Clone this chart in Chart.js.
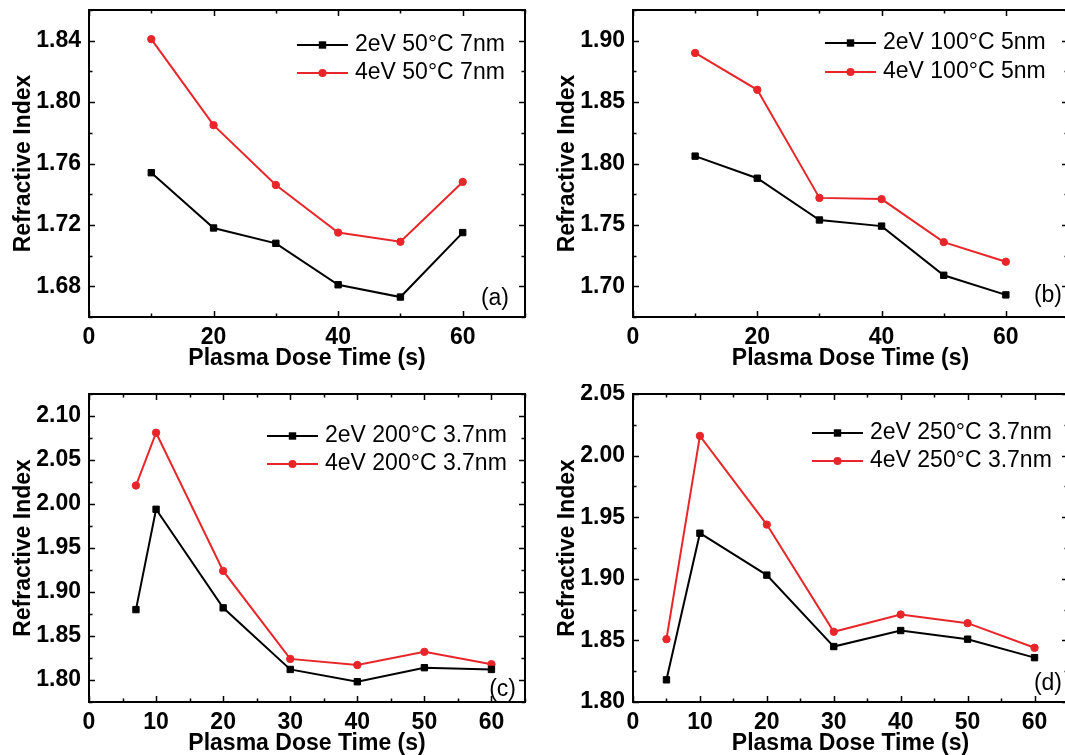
<!DOCTYPE html>
<html>
<head>
<meta charset="utf-8">
<script src="https://cdn.jsdelivr.net/npm/chart.js@4.4.1/dist/chart.umd.min.js"></script>
<style>
  html, body { margin: 0; padding: 0; background: #fff; overflow: hidden; }
  body { width: 1065px; height: 755px; position: relative; }
  canvas { position: absolute; }
</style>
</head>
<body>
<canvas id="chartA" width="531" height="372" style="left:0px;top:0px"></canvas>
<canvas id="chartB" width="530" height="372" style="left:544px;top:0px"></canvas>
<canvas id="chartC" width="531" height="373" style="left:0px;top:384px"></canvas>
<canvas id="chartD" width="530" height="373" style="left:544px;top:384px"></canvas>
<script>
// panel (a) 50°C 7nm
var timeA = [10, 20, 30, 40, 50, 60];
var a2eV = [1.754, 1.718, 1.708, 1.681, 1.673, 1.715];
var a4eV = [1.841, 1.785, 1.746, 1.715, 1.709, 1.748];
var labelsA = ['2eV 50°C 7nm', '4eV 50°C 7nm'];
var xTicksA = [0, 20, 40, 60];
var yTicksA = [1.68, 1.72, 1.76, 1.80, 1.84];

// panel (b) 100°C 5nm
var timeB = [10, 20, 30, 40, 50, 60];
var b2eV = [1.806, 1.788, 1.754, 1.749, 1.709, 1.693];
var b4eV = [1.890, 1.860, 1.772, 1.771, 1.736, 1.720];
var labelsB = ['2eV 100°C 5nm', '4eV 100°C 5nm'];
var xTicksB = [0, 20, 40, 60];
var yTicksB = [1.70, 1.75, 1.80, 1.85, 1.90];

// panel (c) 200°C 3.7nm
var timeC = [7, 10, 20, 30, 40, 50, 60];
var c2eV = [1.880, 1.994, 1.882, 1.812, 1.798, 1.814, 1.812];
var c4eV = [2.021, 2.081, 1.924, 1.824, 1.817, 1.832, 1.818];
var labelsC = ['2eV 200°C 3.7nm', '4eV 200°C 3.7nm'];
var xTicksC = [0, 10, 20, 30, 40, 50, 60];
var yTicksC = [1.80, 1.85, 1.90, 1.95, 2.00, 2.05, 2.10];

// panel (d) 250°C 3.7nm
var timeD = [5, 10, 20, 30, 40, 50, 60];
var d2eV = [1.818, 1.937, 1.903, 1.845, 1.858, 1.851, 1.836];
var d4eV = [1.851, 2.016, 1.944, 1.857, 1.871, 1.864, 1.844];
var labelsD = ['2eV 250°C 3.7nm', '4eV 250°C 3.7nm'];
var xTicksD = [0, 10, 20, 30, 40, 50, 60];
var yTicksD = [1.80, 1.85, 1.90, 1.95, 2.00, 2.05];

var FONT = '"Liberation Sans", Arial, Helvetica, sans-serif';
var RED = '#e8262a';

// minor ticks halfway between the major ones, across the whole axis range
function minorTicks(major, min, max) {
    var half = (major[1] - major[0]) / 2;
    var out = [];
    for (var n = -40; n <= 40; n++) {
        var v = major[0] + n * half;
        if (v < min - 1e-9 || v > max + 1e-9) continue;
        if (n % 2 === 0) continue;
        out.push(v);
    }
    return out;
}

// box, mirrored inward ticks, legend and the panel tag
var framePlugin = {
    id: 'frame',
    afterDraw: function (chart, args, o) {
        var ctx = chart.ctx, a = chart.chartArea;
        var x = chart.scales.x, y = chart.scales.y;
        ctx.save();
        ctx.strokeStyle = '#000';
        ctx.lineWidth = 1.5;
        function xMarks(vals, len) {
            vals.forEach(function (v) {
                var px = Math.round(x.getPixelForValue(v)) + 0.5;
                ctx.beginPath();
                ctx.moveTo(px, a.bottom); ctx.lineTo(px, a.bottom - len);
                ctx.moveTo(px, a.top); ctx.lineTo(px, a.top + len);
                ctx.stroke();
            });
        }
        function yMarks(vals, len) {
            vals.forEach(function (v) {
                var py = Math.round(y.getPixelForValue(v)) + 0.5;
                ctx.beginPath();
                ctx.moveTo(a.left, py); ctx.lineTo(a.left + len, py);
                ctx.moveTo(a.right, py); ctx.lineTo(a.right - len, py);
                ctx.stroke();
            });
        }
        xMarks(o.xTicks, 6);
        xMarks(minorTicks(o.xTicks, x.min, x.max), 3.5);
        yMarks(o.yTicks, 6);
        yMarks(minorTicks(o.yTicks, y.min, y.max), 3.5);
        ctx.lineWidth = 2;
        ctx.strokeRect(a.left, a.top, a.right - a.left, a.bottom - a.top);

        // legend
        ctx.font = '23px ' + FONT;
        ctx.textBaseline = 'middle';
        ctx.textAlign = 'left';
        chart.data.datasets.forEach(function (ds, i) {
            var ly = a.top + o.legendTop + i * o.legendGap;
            var lx = a.left + o.legendLeft;
            ctx.strokeStyle = ds.borderColor;
            ctx.fillStyle = ds.borderColor;
            ctx.lineWidth = 2;
            ctx.beginPath();
            ctx.moveTo(lx, ly); ctx.lineTo(lx + 51, ly);
            ctx.stroke();
            var mx = lx + 25.5;
            ctx.beginPath();
            if (ds.pointStyle === 'rect') {
                ctx.rect(mx - 3.7, ly - 3.7, 7.4, 7.4);
            } else {
                ctx.arc(mx, ly, 4, 0, Math.PI * 2);
            }
            ctx.fill();
            ctx.fillStyle = '#000';
            ctx.fillText(ds.label, lx + 58, ly);
        });

        // panel tag
        ctx.textAlign = 'right';
        ctx.fillStyle = '#000';
        ctx.fillText(o.tag, a.right - o.tagRight, a.bottom - o.tagBottom);
        ctx.restore();
    }
};

function makePanel(id, xs, ys2, ys4, labels, xTicks, yTicks, xMax, yMin, yMax, frame) {
    var ctx = document.getElementById(id).getContext('2d');
    frame.xTicks = xTicks;
    frame.yTicks = yTicks;
    return new Chart(ctx, {
        type: 'line',
        data: {
            datasets: [{
                label: labels[0],
                data: xs.map(function (t, i) { return { x: t, y: ys2[i] }; }),
                borderColor: '#000',
                backgroundColor: '#000',
                borderWidth: 2,
                pointStyle: 'rect',
                pointRadius: 4.5,
                pointBorderWidth: 1,
                tension: 0
            }, {
                label: labels[1],
                data: xs.map(function (t, i) { return { x: t, y: ys4[i] }; }),
                borderColor: RED,
                backgroundColor: RED,
                borderWidth: 2,
                pointStyle: 'circle',
                pointRadius: 3.7,
                pointBorderWidth: 1,
                tension: 0
            }]
        },
        options: {
            responsive: false,
            animation: false,
            events: [],
            layout: { padding: { top: 10, right: 6, left: 0, bottom: 0 } },
            plugins: {
                legend: { display: false },
                tooltip: { enabled: false },
                frame: frame
            },
            scales: {
                x: {
                    type: 'linear',
                    min: 0,
                    max: xMax,
                    afterBuildTicks: function (s) { s.ticks = xTicks.map(function (v) { return { value: v }; }); },
                    afterFit: function (s) { s.height = 55; s.paddingLeft = 0; s.paddingRight = 0; },
                    grid: { display: false, drawTicks: false },
                    border: { display: false },
                    ticks: {
                        color: '#000',
                        autoSkip: false,
                        maxRotation: 0,
                        padding: 7,
                        font: { family: FONT, size: 23, weight: 'bold' },
                        callback: function (v) { return v; }
                    },
                    title: {
                        display: true,
                        text: 'Plasma Dose Time (s)',
                        color: '#000',
                        padding: { top: 0, bottom: 0 },
                        font: { family: FONT, size: 23, weight: 'bold' }
                    }
                },
                y: {
                    type: 'linear',
                    min: yMin,
                    max: yMax,
                    afterBuildTicks: function (s) { s.ticks = yTicks.map(function (v) { return { value: v }; }); },
                    afterFit: function (s) { s.width = 89; s.paddingTop = 0; s.paddingBottom = 0; },
                    grid: { display: false, drawTicks: false },
                    border: { display: false },
                    ticks: {
                        color: '#000',
                        autoSkip: false,
                        padding: 8,
                        font: { family: FONT, size: 23, weight: 'bold' },
                        callback: function (v) { return v.toFixed(2); }
                    },
                    title: {
                        display: true,
                        text: 'Refractive Index',
                        color: '#000',
                        padding: { top: 10, bottom: 0 },
                        font: { family: FONT, size: 23, weight: 'bold' }
                    }
                }
            }
        },
        plugins: [framePlugin]
    });
}

makePanel('chartA', timeA, a2eV, a4eV, labelsA, xTicksA, yTicksA, 70, 1.66, 1.86,
    { legendLeft: 208, legendTop: 35, legendGap: 28, tag: '(a)', tagRight: 16, tagBottom: 18 });
makePanel('chartB', timeB, b2eV, b4eV, labelsB, xTicksB, yTicksB, 70, 1.675, 1.925,
    { legendLeft: 192, legendTop: 33, legendGap: 29, tag: '(b)', tagRight: 6, tagBottom: 21 });
makePanel('chartC', timeC, c2eV, c4eV, labelsC, xTicksC, yTicksC, 65, 1.775, 2.125,
    { legendLeft: 178, legendTop: 42, legendGap: 28, tag: '(c)', tagRight: 9, tagBottom: 12 });
makePanel('chartD', timeD, d2eV, d4eV, labelsD, xTicksD, yTicksD, 65, 1.80, 2.05,
    { legendLeft: 179, legendTop: 39, legendGap: 28, tag: '(d)', tagRight: 6, tagBottom: 18 });
</script>
</body>
</html>
